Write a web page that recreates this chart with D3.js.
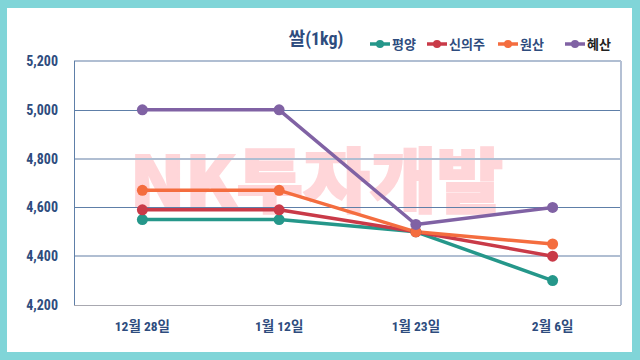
<!DOCTYPE html>
<html><head><meta charset="utf-8">
<script src="https://cdn.jsdelivr.net/npm/d3@7"></script>
<style>body{margin:0;background:#80D5D8;}svg{display:block;}</style>
</head><body><svg id="c" width="640" height="360"></svg>
<script>
const categories = ["12월 28일", "1월 12일", "1월 23일", "2월 6일"];
const seriesNames = ["평양", "신의주", "원산", "혜산"];
const pyongyang = [4550, 4550, 4500, 4300];
const sinuiju = [4590, 4590, 4500, 4400];
const wonsan = [4670, 4670, 4500, 4450];
const hyesan = [5000, 5000, 4530, 4600];
const yTicks = [4200, 4400, 4600, 4800, 5000, 5200];
const colors = ["#25978A", "#C93A48", "#F46D3F", "#8062A4"];
const title = "쌀(1kg)";
const watermark = "NK투자개발";

const series = [pyongyang, sinuiju, wonsan, hyesan];
const svg = d3.select("#c");
const font = "'Roboto Condensed','Noto Sans CJK KR','Noto Sans',sans-serif";
const dark = "#2E4C7E";

svg.append("rect").attr("x",0).attr("y",0).attr("width",640).attr("height",360).attr("fill","#80D5D8");
svg.append("rect").attr("x",7).attr("y",8).attr("width",625).attr("height",344).attr("fill","#fff");

const L=74,R=621,T=61,B=305;
const x = d3.scaleBand().domain(categories).range([L,R]);
const y = d3.scaleLinear().domain([4200,5200]).range([B,T]);

// watermark
svg.append("text").attr("x",130).attr("y",207).attr("font-family","'Noto Sans CJK KR',sans-serif")
  .attr("font-weight","900").attr("font-size",70).attr("textLength",373).attr("lengthAdjust","spacingAndGlyphs")
  .attr("fill","#FFD6D9").attr("stroke","#FFD6D9").attr("stroke-width",2).text(watermark);

// gridlines
yTicks.forEach((t,i)=>{
  if (t===4200) return;
  const strong = (t===5000||t===4600);
  svg.append("line").attr("x1",L).attr("x2",R)
    .attr("y1",Math.round(y(t))+(strong?0.5:0)).attr("y2",Math.round(y(t))+(strong?0.5:0))
    .attr("stroke",strong?"#5E7FA8":"#B0BED2").attr("stroke-width",strong?1:2);
});
// borders
svg.append("line").attr("x1",L+0.5).attr("x2",L+0.5).attr("y1",T).attr("y2",B).attr("stroke","#5E7FA8");
svg.append("line").attr("x1",R).attr("x2",R).attr("y1",T).attr("y2",B).attr("stroke","#B4C0D4").attr("stroke-width",2);
svg.append("line").attr("x1",L).attr("x2",R).attr("y1",B+0.5).attr("y2",B+0.5).attr("stroke","#A8A8B0");

// y axis labels
const yAxis = d3.axisLeft(y).tickValues(yTicks).tickFormat(d3.format(",")).tickSize(0).tickPadding(16);
const ga = svg.append("g").attr("transform",`translate(${L},0)`).call(yAxis);
ga.select(".domain").remove();
ga.selectAll("text").attr("fill",dark).attr("font-family",font).attr("font-weight","bold").attr("font-size",14);

// x axis labels
const xAxis = d3.axisBottom(x).tickSize(0).tickPadding(16);
const gx = svg.append("g").attr("transform",`translate(0,${B})`).call(xAxis);
gx.select(".domain").remove();
gx.selectAll("text").attr("fill",dark).attr("font-family",font).attr("font-weight","bold").attr("font-size",13.5);

// lines
const line = d3.line().x((d,i)=>x(categories[i])+x.bandwidth()/2).y(d=>y(d));
series.forEach((s,k)=>{
  svg.append("path").datum(s).attr("d",line).attr("fill","none").attr("stroke",colors[k]).attr("stroke-width",3.5).attr("stroke-linejoin","round");
});
series.forEach((s,k)=>{
  svg.selectAll(null).data(s).enter().append("circle")
    .attr("cx",(d,i)=>x(categories[i])+x.bandwidth()/2).attr("cy",d=>y(d)).attr("r",5.5).attr("fill",colors[k]);
});

// title
svg.append("text").attr("x",316).attr("y",45).attr("text-anchor","middle").attr("font-family",font)
  .attr("font-weight","bold").attr("font-size",18).attr("fill",dark).text(title);

// legend
const legX = [370, 427, 498, 565];
seriesNames.forEach((n,k)=>{
  const g = svg.append("g").attr("transform",`translate(${legX[k]},44)`);
  g.append("line").attr("x1",0).attr("x2",20).attr("y1",0).attr("y2",0).attr("stroke",colors[k]).attr("stroke-width",3.5);
  g.append("circle").attr("cx",10).attr("cy",0).attr("r",4).attr("fill",colors[k]);
  g.append("text").attr("x",22).attr("y",5).attr("font-family",font).attr("font-weight","bold")
    .attr("font-size",13).attr("fill",k===3?"#222":dark).text(n);
});
</script></body></html>
